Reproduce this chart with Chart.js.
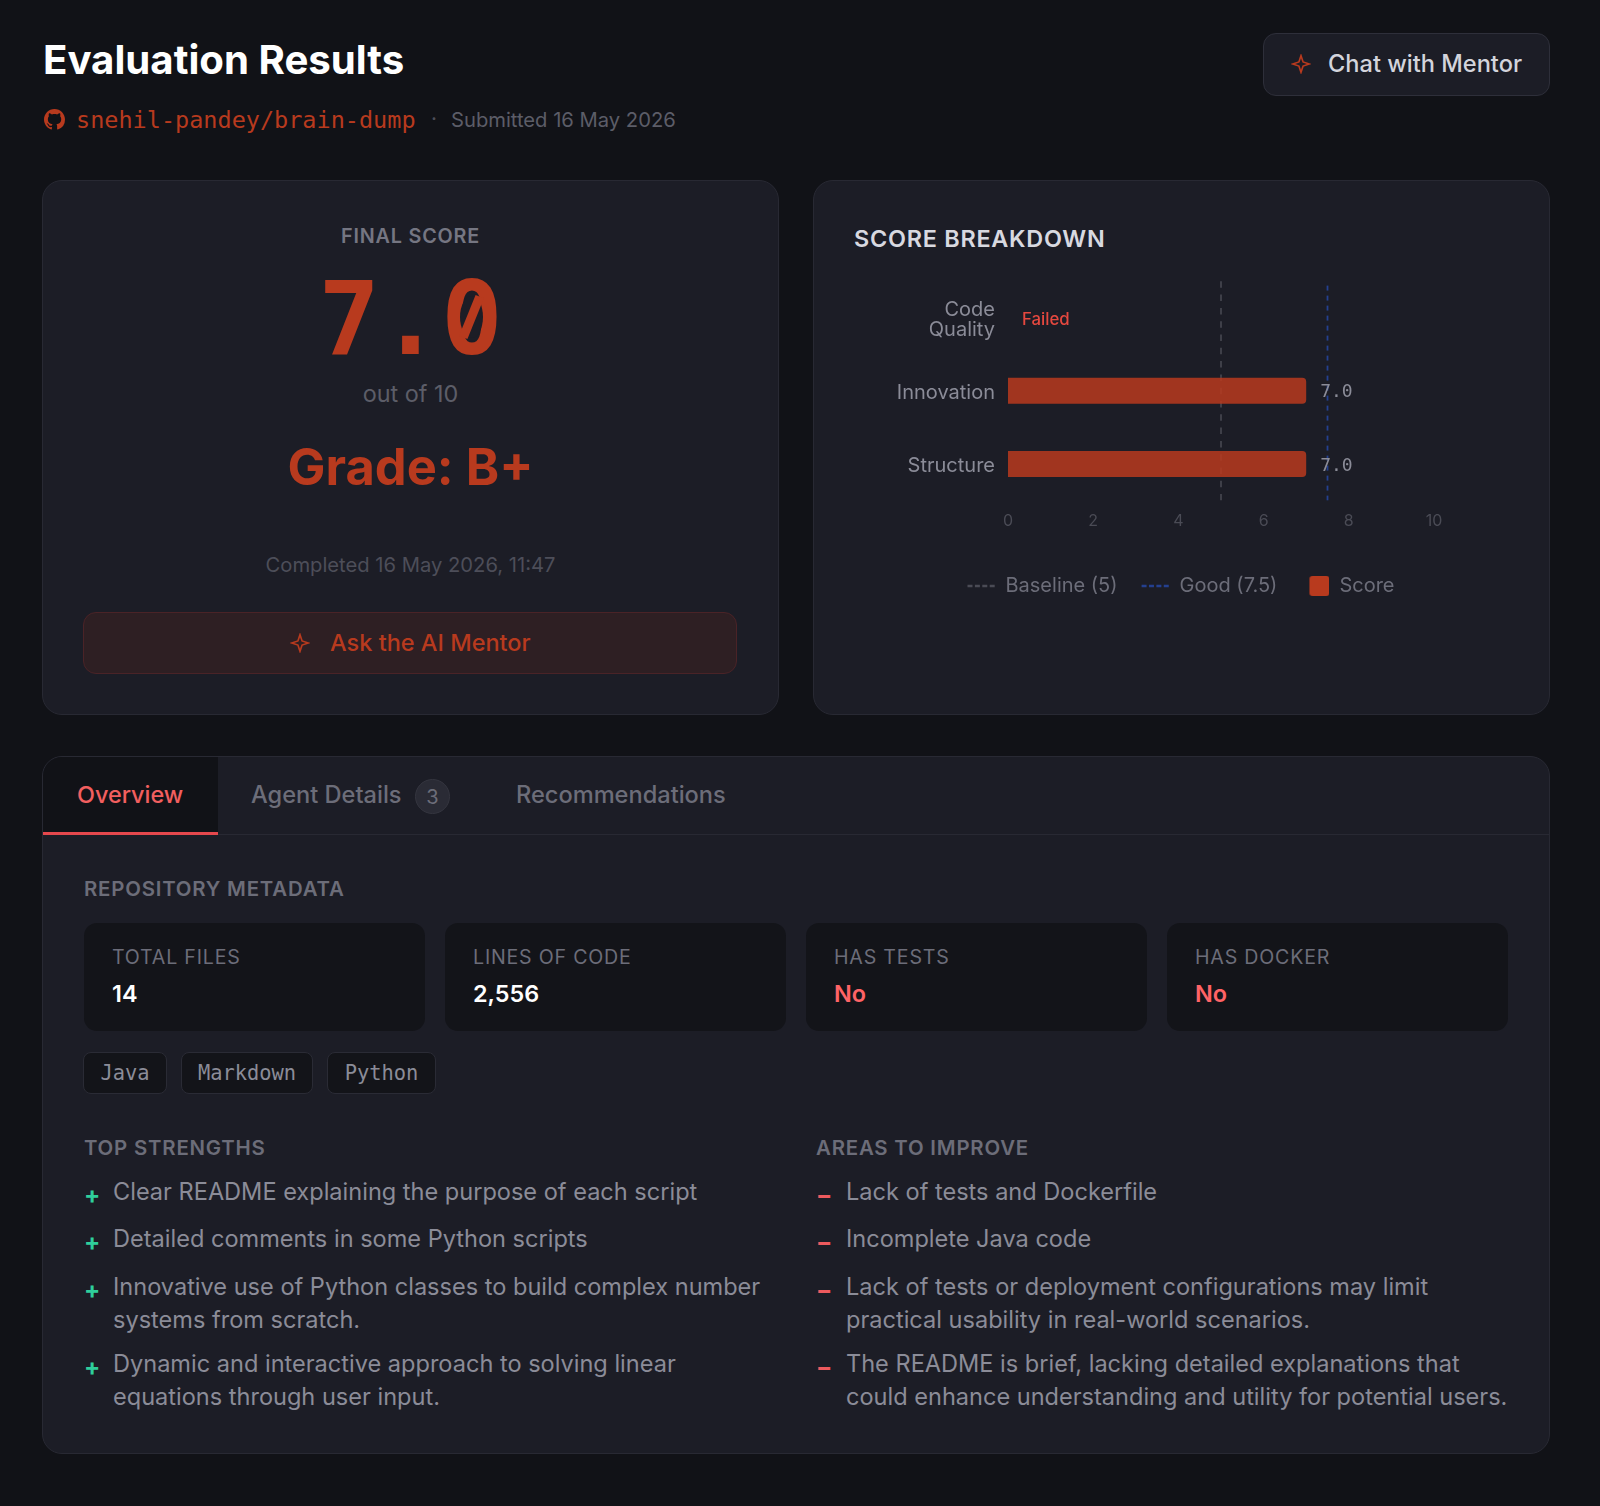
<!DOCTYPE html>
<html>
<head>
<meta charset="utf-8">
<title>Evaluation Results</title>
<script src="https://cdn.jsdelivr.net/npm/chart.js@4"></script>
<style>
    * { box-sizing: border-box; }
    body { margin: 0; width: 1600px; height: 1506px; background: #111217; font-family: Inter, sans-serif; overflow: hidden; position: relative; color: #8b8c98; }
    .abs { position: absolute; white-space: nowrap; line-height: 1; }
    .mono { font-family: "DejaVu Sans Mono", monospace; }
    .center { transform: translateX(-50%); }
    .card { position: absolute; background: #1c1d26; border: 1px solid #282933; border-radius: 20px; }
    .btn { position: absolute; border-radius: 13px; }
    .stat { position: absolute; top: 923px; width: 341px; height: 108px; background: #131419; border-radius: 13px; }
    .chip { position: absolute; top: 1052px; height: 42px; line-height: 40px; text-align: center; background: #131419; border: 1px solid #2a2b35; border-radius: 8px; font-size: 20.4px; font-family: "DejaVu Sans Mono", monospace; color: #8b8c98; }
    .section { font-size: 20.4px; font-weight: 600; letter-spacing: 0.8px; color: #6c6d79; }
    .label { font-size: 19.6px; letter-spacing: 0.8px; color: #6c6d79; }
    .value { font-size: 23.4px; font-weight: 600; color: #fff; }
    .no { color: #ff6366; }
    .item { font-size: 23.55px; color: #8b8c98; }
    .plus { font-size: 24px; font-weight: 700; color: #2fcf9b; }
    .minus { font-size: 24px; font-weight: 700; color: #ec5a5e; }
    #chartBox { position: absolute; left: 854px; top: 258px; width: 654px; height: 348px; }
</style>
</head>
<body>
    <div class="abs" style="left:43px;top:40px;font-size:40.2px;font-weight:700;color:#fff">Evaluation Results</div>
    <svg class="abs" style="left:44px;top:109px" width="21" height="21" viewBox="0 0 16 16" fill="#b83a1e"><path d="M8 0C3.58 0 0 3.58 0 8c0 3.54 2.29 6.53 5.47 7.59.4.07.55-.17.55-.38 0-.19-.01-.82-.01-1.49-2.01.37-2.53-.49-2.69-.94-.09-.23-.48-.94-.82-1.13-.28-.15-.68-.52-.01-.53.63-.01 1.08.58 1.23.82.72 1.21 1.87.87 2.33.66.07-.52.28-.87.51-1.07-1.78-.2-3.64-.89-3.64-3.95 0-.87.31-1.59.82-2.15-.08-.2-.36-1.02.08-2.12 0 0 .67-.21 2.2.82.64-.18 1.32-.27 2-.27s1.36.09 2 .27c1.53-1.04 2.2-.82 2.2-.82.44 1.1.16 1.92.08 2.12.51.56.82 1.27.82 2.15 0 3.07-1.87 3.75-3.65 3.95.29.25.54.73.54 1.48 0 1.07-.01 1.93-.01 2.2 0 .21.15.46.55.38A8.01 8.01 0 0 0 16 8c0-4.42-3.58-8-8-8z"/></svg>
    <div class="abs mono" style="left:76px;top:109px;font-size:23.5px;color:#b83a1e">snehil-pandey/brain-dump</div>
    <div class="abs" style="left:431px;top:109px;font-size:20.8px;color:#4d4e59">·</div>
    <div class="abs" style="left:451px;top:110px;font-size:20.2px;color:#5c5d68">Submitted 16 May 2026</div>

    <div class="btn" style="left:1263px;top:33px;width:287px;height:63px;background:#1c1d26;border:1px solid #2e2f3a"></div>
    <svg class="abs" style="left:1291px;top:54px" width="20" height="20" viewBox="0 0 24 24" fill="none" stroke="#b83a1e" stroke-width="2"><path d="M12 2 L14.5 9.5 L22 12 L14.5 14.5 L12 22 L9.5 14.5 L2 12 L9.5 9.5 Z"/></svg>
    <div class="abs" style="left:1328px;top:52px;font-size:23.6px;font-weight:500;color:#d3d4dc">Chat with Mentor</div>

    <!-- score card -->
    <div class="card" style="left:42px;top:180px;width:737px;height:535px"></div>
    <div class="abs center section" style="left:410.5px;top:227px;font-size:19.8px;color:#757682">FINAL SCORE</div>
    <div class="abs center mono" style="left:410.5px;top:268px;font-size:102px;font-weight:700;color:#b83a1e">7.0</div>
    <!-- the reference zero has a slash, DejaVu a dot -->
    <div class="abs" style="left:460px;top:296px;width:23px;height:42px;border-radius:50%;background:#1c1d26"></div>
    <div class="abs" style="left:467px;top:295px;width:9px;height:44px;background:#b83a1e;transform:rotate(22deg)"></div>
    <div class="abs center" style="left:410.5px;top:382px;font-size:23.4px;color:#5c5d68">out of 10</div>
    <div class="abs center" style="left:410.5px;top:442px;font-size:50.6px;font-weight:700;color:#b83a1e">Grade: B+</div>
    <div class="abs center" style="left:410.5px;top:555px;font-size:20.2px;color:#4d4e59">Completed 16 May 2026, 11:47</div>
    <div class="btn" style="left:83px;top:612px;width:654px;height:62px;background:#2e1f23;border:1px solid #4a2327"></div>
    <svg class="abs" style="left:290px;top:633px" width="20" height="20" viewBox="0 0 24 24" fill="none" stroke="#b83a1e" stroke-width="2"><path d="M12 2 L14.5 9.5 L22 12 L14.5 14.5 L12 22 L9.5 14.5 L2 12 L9.5 9.5 Z"/></svg>
    <div class="abs" style="left:330px;top:631px;font-size:23.5px;font-weight:500;color:#b83a1e">Ask the AI Mentor</div>

    <!-- breakdown card -->
    <div class="card" style="left:813px;top:180px;width:737px;height:535px"></div>
    <div class="abs" style="left:854px;top:227px;font-size:23.4px;font-weight:600;letter-spacing:0.75px;color:#d8d9e0">SCORE BREAKDOWN</div>
    <div id="chartBox"><canvas id="scoreChart" width="654" height="348"></canvas></div>

    <!-- tabs panel -->
    <div class="card" style="left:42px;top:756px;width:1508px;height:698px;overflow:hidden">
        <div style="position:absolute;left:0;top:0;width:100%;height:78px;border-bottom:1px solid #282933"></div>
        <div style="position:absolute;left:0;top:0;width:175px;height:78px;background:#111217;border-bottom:3px solid #e5484d"></div>
    </div>
    <div class="abs" style="left:77px;top:783px;font-size:23.4px;font-weight:500;color:#f25f5f">Overview</div>
    <div class="abs" style="left:251px;top:783px;font-size:23.6px;font-weight:500;color:#6c6d79">Agent Details</div>
    <div class="abs" style="left:415px;top:779px;width:35px;height:35px;line-height:35px;text-align:center;border-radius:50%;background:#2a2b35;border:1px solid #34353f;font-size:20px;color:#6c6d79">3</div>
    <div class="abs" style="left:516px;top:783px;font-size:23.6px;font-weight:500;color:#6c6d79">Recommendations</div>

    <div class="abs section" style="left:84px;top:879px">REPOSITORY METADATA</div>
    <div class="stat" style="left:84px"></div>
    <div class="stat" style="left:445px"></div>
    <div class="stat" style="left:806px"></div>
    <div class="stat" style="left:1167px"></div>
    <div class="abs label" style="left:112px;top:948px">TOTAL FILES</div>
    <div class="abs value" style="left:112px;top:982px">14</div>
    <div class="abs label" style="left:473px;top:948px">LINES OF CODE</div>
    <div class="abs value" style="left:473px;top:982px">2,556</div>
    <div class="abs label" style="left:834px;top:948px">HAS TESTS</div>
    <div class="abs value no" style="left:834px;top:982px">No</div>
    <div class="abs label" style="left:1195px;top:948px">HAS DOCKER</div>
    <div class="abs value no" style="left:1195px;top:982px">No</div>

    <div class="chip" style="left:83px;width:84px">Java</div>
    <div class="chip" style="left:181px;width:132px">Markdown</div>
    <div class="chip" style="left:327px;width:109px">Python</div>

    <div class="abs section" style="left:84px;top:1138px">TOP STRENGTHS</div>
    <div class="abs plus" style="left:84px;top:1183px">+</div>
    <div class="abs item" style="left:113px;top:1180px">Clear README explaining the purpose of each script</div>
    <div class="abs plus" style="left:84px;top:1230px">+</div>
    <div class="abs item" style="left:113px;top:1227px">Detailed comments in some Python scripts</div>
    <div class="abs plus" style="left:84px;top:1278px">+</div>
    <div class="abs item" style="left:113px;top:1275px">Innovative use of Python classes to build complex number</div>
    <div class="abs item" style="left:113px;top:1308px">systems from scratch.</div>
    <div class="abs plus" style="left:84px;top:1355px">+</div>
    <div class="abs item" style="left:113px;top:1352px">Dynamic and interactive approach to solving linear</div>
    <div class="abs item" style="left:113px;top:1385px">equations through user input.</div>

    <div class="abs section" style="left:816px;top:1138px">AREAS TO IMPROVE</div>
    <div class="abs minus" style="left:816px;top:1183px">−</div>
    <div class="abs item" style="left:846px;top:1180px">Lack of tests and Dockerfile</div>
    <div class="abs minus" style="left:816px;top:1230px">−</div>
    <div class="abs item" style="left:846px;top:1227px">Incomplete Java code</div>
    <div class="abs minus" style="left:816px;top:1278px">−</div>
    <div class="abs item" style="left:846px;top:1275px">Lack of tests or deployment configurations may limit</div>
    <div class="abs item" style="left:846px;top:1308px">practical usability in real-world scenarios.</div>
    <div class="abs minus" style="left:816px;top:1355px">−</div>
    <div class="abs item" style="left:846px;top:1352px">The README is brief, lacking detailed explanations that</div>
    <div class="abs item" style="left:846px;top:1385px">could enhance understanding and utility for potential users.</div>

<script>
    const categories = [['Code', 'Quality'], 'Innovation', 'Structure'];
    const scores = [null, 7.0, 7.0];
    const xTicks = [0, 2, 4, 6, 8, 10];
    const baselineScore = 5;
    const goodScore = 7.5;
    const failedLabel = 'Failed';

    // Score swatch for the legend: sits at the right side of the legend box
    function makeSwatch() {
        const c = document.createElement('canvas');
        c.width = 28;
        c.height = 20;
        const g = c.getContext('2d');
        g.fillStyle = '#b83a1e';
        g.beginPath();
        g.roundRect(8, 0, 20, 20, 3);
        g.fill();
        return c;
    }

    // Draws the value text at the end of each bar
    const barValues = {
        id: 'barValues',
        afterDatasetsDraw(chart) {
            const ctx = chart.ctx;
            const xScale = chart.scales.x;
            const yScale = chart.scales.y;
            ctx.save();
            ctx.textBaseline = 'middle';
            scores.forEach((s, i) => {
                const y = yScale.getPixelForValue(i) + 2;
                if (s === null) {
                    ctx.font = '500 16.8px Inter';
                    ctx.fillStyle = '#e5483f';
                    ctx.fillText(failedLabel, xScale.getPixelForValue(0) + 14, y);
                } else {
                    ctx.font = '18px "DejaVu Sans Mono"';
                    ctx.fillStyle = '#8b8c98';
                    ctx.fillText(s.toFixed(1), xScale.getPixelForValue(s) + 14, y);
                }
            });
            ctx.restore();
        }
    };

    // Labels get clipped to the axis box, so let the box reach the canvas edge
    const widenYAxis = {
        id: 'widenYAxis',
        afterLayout(chart) {
            chart.scales.y.left = 0;
        }
    };

    new Chart(document.getElementById('scoreChart'), {
        data: {
            labels: categories,
            datasets: [
                {
                    type: 'scatter',
                    label: 'Baseline (5)',
                    data: [{ x: baselineScore, y: 0 }, { x: baselineScore, y: 1 }],
                    yAxisID: 'yRef',
                    showLine: true,
                    pointRadius: 0,
                    borderColor: '#4a4b55',
                    borderWidth: 1.5,
                    borderDash: [6.5, 6.8],
                    order: 3
                },
                {
                    type: 'scatter',
                    label: 'Good (7.5)',
                    data: [{ x: goodScore, y: 0 }, { x: goodScore, y: 1 }],
                    yAxisID: 'yRef',
                    showLine: true,
                    pointRadius: 0,
                    borderColor: '#24408f',
                    borderWidth: 1.8,
                    borderDash: [5, 5],
                    order: 3
                },
                {
                    type: 'bar',
                    label: 'Score',
                    data: scores,
                    yAxisID: 'y',
                    grouped: false,
                    backgroundColor: 'rgba(184, 58, 30, 0.85)',
                    maxBarThickness: 26,
                    borderRadius: { topRight: 4, bottomRight: 4, topLeft: 0, bottomLeft: 0 },
                    borderSkipped: false,
                    order: 1
                }
            ]
        },
        options: {
            indexAxis: 'y',
            responsive: false,
            animation: false,
            // equal side padding keeps the legend centred in the card
            layout: { padding: { top: 0, right: 74, bottom: 0, left: 74 } },
            scales: {
                x: {
                    type: 'linear',
                    min: 0,
                    max: 10,
                    afterBuildTicks(axis) { axis.ticks = xTicks.map(v => ({ value: v })); },
                    afterFit(axis) { axis.height = 51.4; },
                    grid: { display: false, drawTicks: false },
                    border: { display: false },
                    ticks: { color: '#4a4b55', font: { family: 'Inter', size: 16 }, padding: 11, maxRotation: 0 }
                },
                y: {
                    type: 'category',
                    afterFit(axis) { axis.width = 80; },
                    grid: { display: false, drawTicks: false },
                    border: { display: false },
                    ticks: { color: '#8b8c98', font: { family: 'Inter', size: 20, lineHeight: 1 }, padding: 13, labelOffset: 2 }
                },
                yRef: { type: 'linear', min: 0, max: 1, display: false }
            },
            plugins: {
                tooltip: { enabled: false },
                legend: {
                    position: 'bottom',
                    labels: {
                        color: '#6c6d79',
                        font: { family: 'Inter', size: 20 },
                        usePointStyle: true,
                        pointStyleWidth: 28,
                        boxHeight: 20,
                        padding: 24,
                        generateLabels() {
                            return [
                                { text: 'Baseline (5)', pointStyle: 'line', strokeStyle: '#4a4b55', lineWidth: 2.5, lineDash: [5, 2.4], fontColor: '#6c6d79', datasetIndex: 0 },
                                { text: 'Good (7.5)', pointStyle: 'line', strokeStyle: '#24408f', lineWidth: 2.5, lineDash: [5, 2.4], fontColor: '#6c6d79', datasetIndex: 1 },
                                { text: 'Score', pointStyle: makeSwatch(), fillStyle: '#b83a1e', lineWidth: 0, fontColor: '#6c6d79', datasetIndex: 2 }
                            ];
                        }
                    }
                }
            }
        },
        plugins: [barValues, widenYAxis]
    });
</script>
</body>
</html>
